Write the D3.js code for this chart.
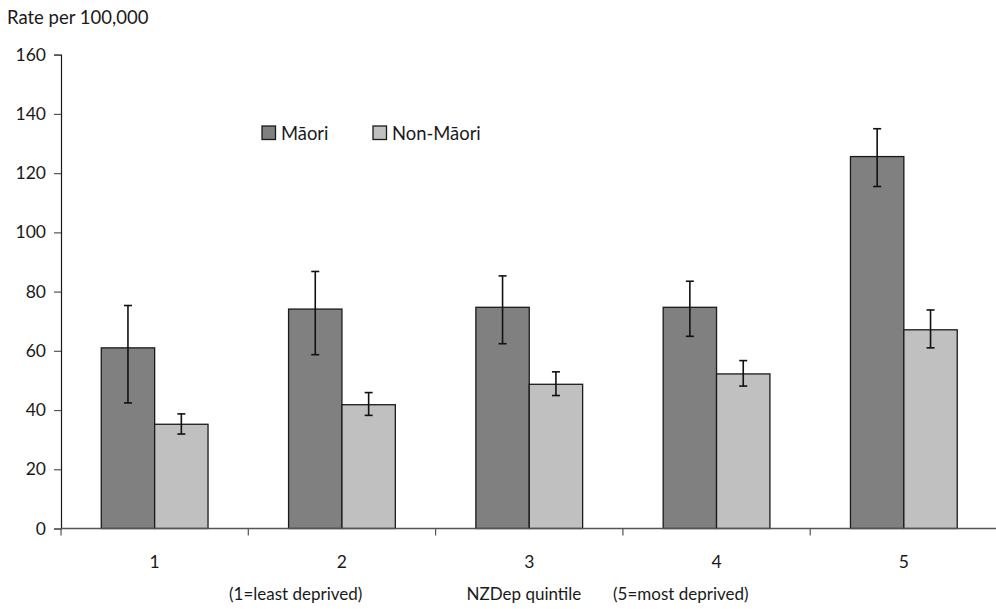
<!DOCTYPE html>
<html>
<head>
<meta charset="utf-8">
<script src="https://cdn.jsdelivr.net/npm/d3@7"></script>
<style>
  html, body { margin: 0; padding: 0; background: #fff; }
  svg text { font-family: Lato, "Open Sans", sans-serif; fill: #1a1a1a; }
</style>
</head>
<body>
<svg id="chart" width="996" height="609"></svg>
<script>
// NZDep quintiles and rates per 100,000 with 95% confidence limits
const quintiles = ["1", "2", "3", "4", "5"];
const seriesNames = ["Māori", "Non-Māori"];
const maoriRate = [61.0, 74.1, 74.7, 74.7, 125.6];
const maoriLower = [42.4, 58.7, 62.4, 64.9, 115.5];
const maoriUpper = [75.3, 86.8, 85.3, 83.5, 135.0];
const nonMaoriRate = [35.2, 41.8, 48.7, 52.2, 67.1];
const nonMaoriLower = [31.9, 38.2, 44.9, 48.1, 61.0];
const nonMaoriUpper = [38.7, 45.9, 52.9, 56.7, 73.8];
const yTicks = [0, 20, 40, 60, 80, 100, 120, 140, 160];
const seriesColors = ["#808080", "#c0c0c0"];

const rows = quintiles.map((q, i) => ({
  q,
  values: [
    { s: seriesNames[0], v: maoriRate[i], lo: maoriLower[i], hi: maoriUpper[i] },
    { s: seriesNames[1], v: nonMaoriRate[i], lo: nonMaoriLower[i], hi: nonMaoriUpper[i] }
  ]
}));

const svg = d3.select("#chart");
const plotLeft = 61, plotRight = 997.5, plotTop = 54.7, plotBottom = 528.5;

const x = d3.scaleBand().domain(quintiles).range([plotLeft, plotRight]).padding(0);
const groupWidth = x.bandwidth() * 0.57;
const xs = d3.scaleBand().domain(seriesNames).range([0, groupWidth]).padding(0);
const y = d3.scaleLinear().domain([0, 160]).range([plotBottom, plotTop]);
const color = d3.scaleOrdinal().domain(seriesNames).range(seriesColors);

// y axis
const yAxis = svg.append("g")
  .attr("transform", `translate(${plotLeft},0)`)
  .call(d3.axisLeft(y).tickValues(yTicks).tickSize(7).tickPadding(8));
yAxis.select(".domain").attr("stroke", "#1a1a1a").attr("stroke-width", 1.2);
yAxis.selectAll(".tick line").attr("stroke", "#555").attr("stroke-width", 1.2);
yAxis.selectAll("text").attr("font-size", 17.5).attr("fill", "#1a1a1a")
  .style("font-family", "Lato, 'Open Sans', sans-serif");

// y axis caption
svg.append("text").attr("x", 7).attr("y", 24).attr("font-size", 18.5).text("Rate per 100,000");

// bars
const groups = svg.append("g").selectAll("g").data(rows).join("g")
  .attr("transform", d => `translate(${x(d.q) + (x.bandwidth() - groupWidth) / 2},0)`);

groups.selectAll("rect").data(d => d.values).join("rect")
  .attr("x", d => xs(d.s))
  .attr("y", d => y(d.v))
  .attr("width", xs.bandwidth())
  .attr("height", d => y(0) - y(d.v))
  .attr("fill", d => color(d.s))
  .attr("stroke", "#1a1a1a")
  .attr("stroke-width", 1.3);

// error bars
const err = groups.selectAll("g.err").data(d => d.values).join("g").attr("class", "err")
  .attr("stroke", "#111").attr("stroke-width", 1.6);
err.append("line")
  .attr("x1", d => xs(d.s) + xs.bandwidth() / 2).attr("x2", d => xs(d.s) + xs.bandwidth() / 2)
  .attr("y1", d => y(d.hi)).attr("y2", d => y(d.lo));
err.append("line")
  .attr("x1", d => xs(d.s) + xs.bandwidth() / 2 - 4).attr("x2", d => xs(d.s) + xs.bandwidth() / 2 + 4)
  .attr("y1", d => y(d.hi)).attr("y2", d => y(d.hi));
err.append("line")
  .attr("x1", d => xs(d.s) + xs.bandwidth() / 2 - 4).attr("x2", d => xs(d.s) + xs.bandwidth() / 2 + 4)
  .attr("y1", d => y(d.lo)).attr("y2", d => y(d.lo));

// x axis: boundary ticks between quintiles, labels at centres
const xAxisG = svg.append("g").attr("transform", `translate(0,${plotBottom})`);
xAxisG.append("line").attr("x1", plotLeft).attr("x2", plotRight).attr("y1", 0).attr("y2", 0)
  .attr("stroke", "#555").attr("stroke-width", 1.3);
const boundaries = quintiles.map(q => x(q)).concat([x(quintiles[quintiles.length - 1]) + x.bandwidth()]);
xAxisG.selectAll("line.tick").data(boundaries).join("line").attr("class", "tick")
  .attr("x1", d => d).attr("x2", d => d).attr("y1", 0).attr("y2", 7)
  .attr("stroke", "#555").attr("stroke-width", 1.2);
xAxisG.selectAll("text").data(quintiles).join("text")
  .attr("x", d => x(d) + x.bandwidth() / 2).attr("y", 39)
  .attr("text-anchor", "middle").attr("font-size", 17.5).text(d => d);

// x axis caption
const caption = [
  { t: "(1=least deprived)", x: 229 },
  { t: "NZDep quintile", x: 466.5 },
  { t: "(5=most deprived)", x: 613 }
];
svg.append("g").selectAll("text").data(caption).join("text")
  .attr("x", d => d.x).attr("y", 600).attr("font-size", 17).text(d => d.t);

// legend
const legendItems = [{ s: seriesNames[0], x: 262 }, { s: seriesNames[1], x: 373 }];
const lg = svg.append("g").selectAll("g").data(legendItems).join("g")
  .attr("transform", d => `translate(${d.x},126)`);
lg.append("rect").attr("width", 13.5).attr("height", 13.5)
  .attr("fill", d => color(d.s)).attr("stroke", "#1a1a1a").attr("stroke-width", 1.3);
lg.append("text").attr("x", 19).attr("y", 13.5).attr("font-size", 18.4).text(d => d.s);
</script>
</body>
</html>
